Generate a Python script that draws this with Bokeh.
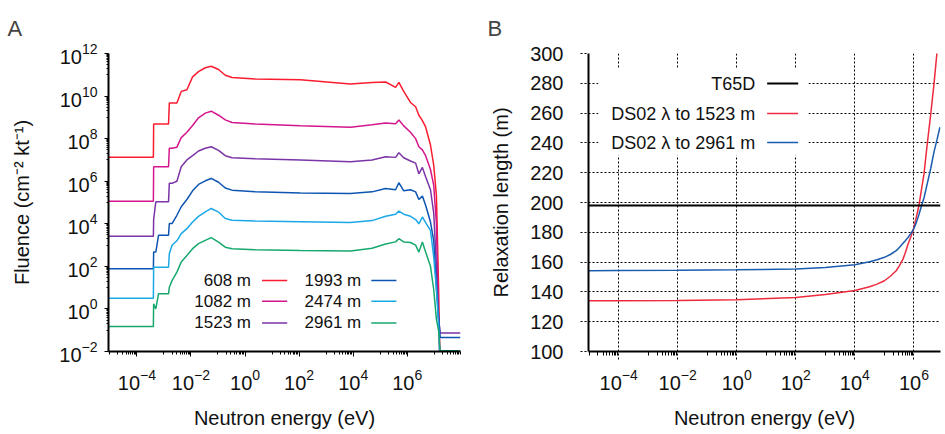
import numpy as np
from bokeh.plotting import figure
from bokeh.models import Range1d, FixedTicker, Span
from bokeh.layouts import row
from bokeh.embed import file_html
from bokeh.resources import INLINE
from bokeh.core.properties import value

FONT = "Liberation Sans"

# ---------------- Panel A data (log10 of energy in eV, log10 of fluence) ----------------
log_energy_a = [-5.05, -3.39, -3.38, -3.30, -3.20, -2.83, -2.80, -2.70, -2.52, -2.36,
                -2.15, -1.94, -1.72, -1.47, -1.25, -0.98, -0.73, -0.48, 0.38, 2.05,
                3.90, 4.70, 5.20, 5.57, 5.69, 5.87, 6.12, 6.31, 6.43, 6.56,
                6.68, 6.86, 6.98, 7.08, 7.16, 7.22, 7.97]

fluence_608 = [7.12, 7.12, 8.69, 8.69, 8.69, 8.69, 9.67, 9.67, 9.67, 10.22,
               10.30, 10.90, 11.15, 11.33, 11.40, 11.25, 10.98, 10.87, 10.80, 10.77,
               10.57, 10.64, 10.66, 10.41, 10.64, 10.22, 9.70, 9.50, 9.10, 8.85,
               8.55, 7.70, 6.75, 5.30, 1.00, -3.0, -3.0]
fluence_1082 = [5.06, 5.06, 6.68, 6.68, 6.68, 6.68, 7.55, 7.55, 7.60, 8.05,
                8.30, 8.62, 8.98, 9.20, 9.29, 9.10, 8.88, 8.76, 8.69, 8.61,
                8.54, 8.65, 8.73, 8.70, 8.88, 8.60, 8.30, 8.00, 7.62, 7.47,
                7.20, 6.55, 5.80, 4.00, -0.50, -3.0, -3.0]
fluence_1523 = [3.42, 3.42, 4.20, 5.03, 5.03, 5.03, 5.90, 5.90, 6.00, 6.68,
                7.00, 7.20, 7.42, 7.55, 7.62, 7.45, 7.20, 7.10, 7.05, 7.00,
                6.92, 7.00, 7.15, 7.12, 7.34, 7.10, 6.95, 6.85, 6.35, 6.65,
                6.21, 5.60, 4.50, 2.00, -0.50, -1.13, -1.13]
fluence_1993 = [1.89, 1.89, 2.67, 2.67, 3.46, 3.46, 4.01, 4.01, 4.40, 4.80,
                5.14, 5.55, 5.85, 6.02, 6.13, 5.95, 5.68, 5.58, 5.50, 5.45,
                5.42, 5.50, 5.66, 5.60, 5.93, 5.55, 5.60, 5.50, 5.14, 5.30,
                4.87, 4.08, 3.20, 1.00, -0.40, -1.34, -1.34]
fluence_2474 = [0.50, 0.50, 1.96, 1.96, 1.96, 1.96, 2.59, 2.99, 3.20, 3.54,
                3.77, 4.08, 4.35, 4.56, 4.72, 4.55, 4.25, 4.17, 4.13, 4.10,
                4.06, 4.15, 4.35, 4.45, 4.60, 4.45, 4.35, 4.20, 4.00, 4.32,
                4.05, 3.69, 2.43, 0.90, -0.70, -3.0, -3.0]
fluence_2961 = [-0.83, -0.83, 0.24, 0.00, 0.71, 0.71, 1.02, 1.33, 1.73, 2.20,
                2.51, 2.83, 3.07, 3.22, 3.35, 3.14, 2.90, 2.83, 2.78, 2.74,
                2.72, 2.85, 3.05, 3.15, 3.30, 3.15, 3.12, 3.00, 2.67, 3.14,
                2.67, 2.00, 0.90, -0.50, -1.02, -1.97, -1.97]

distance_labels = ["608 m", "1082 m", "1523 m", "1993 m", "2474 m", "2961 m"]
fluence_series = [fluence_608, fluence_1082, fluence_1523, fluence_1993, fluence_2474, fluence_2961]
colors_a = ["#fb1c30", "#d4168c", "#7a34a6", "#0d55b0", "#1ca7e6", "#17a86e"]

# ---------------- Panel B data ----------------
log_energy_b = [-5.02, -4.0, -2.0, 0.0, 2.0, 3.0, 4.0, 4.5, 4.75, 5.0,
                5.2, 5.4, 5.5, 5.63, 5.7, 5.8, 5.9, 6.0, 6.08, 6.17,
                6.25, 6.34, 6.45, 6.57, 6.68, 6.78, 6.88]
relax_1523 = [134.0, 134.1, 134.3, 134.7, 136.3, 138.2, 140.9, 143.5, 145.2, 147.5,
              150.5, 154.2, 157.3, 162.0, 165.8, 172.0, 177.2, 183.3, 190.0, 198.0,
              208.0, 219.0, 239.0, 259.5, 279.6, 300.5, 322.0]
relax_2961 = [154.2, 154.3, 154.5, 154.8, 155.4, 156.3, 158.2, 160.3, 161.6, 163.2,
              165.1, 167.7, 169.6, 172.6, 174.2, 176.5, 179.3, 182.5, 186.5, 192.0,
              197.3, 203.0, 212.5, 223.0, 234.0, 242.0, 250.5]
t65d_length = 198.0
legend_b_labels = ["T65D", "DS02 \u03bb to 1523 m", "DS02 \u03bb to 2961 m"]
colors_b = ["#000000", "#ee2a3e", "#1a5cae"]
relax_ticks = [100, 120, 140, 160, 180, 200, 220, 240, 260, 280, 300]


def log_ticker(major_exps, minor_exps):
    majors = [10.0 ** e for e in major_exps]
    minors = [k * 10.0 ** e for e in minor_exps for k in range(1, 10)]
    return FixedTicker(ticks=majors, minor_ticks=minors)


def style_axis(ax, tick_out, minor_out, dash=None):
    ax.axis_line_width = 2
    ax.axis_line_color = "black"
    ax.major_tick_in = 0
    ax.major_tick_out = tick_out
    ax.minor_tick_in = 0
    ax.minor_tick_out = minor_out
    ax.major_tick_line_color = "black"
    ax.minor_tick_line_color = "black"
    if dash:
        ax.major_tick_line_dash = dash
    ax.major_label_text_font = FONT
    ax.major_label_text_font_size = "20px"
    ax.major_label_text_color = "#111111"
    ax.axis_label_text_font = FONT
    ax.axis_label_text_font_size = "20px"
    ax.axis_label_text_font_style = "normal"
    ax.axis_label_text_color = "#111111"


def style_title(p, text, offset):
    p.title.text = text
    p.title.align = "left"
    p.title.offset = offset
    p.title.text_font = FONT
    p.title.text_font_size = "22px"
    p.title.text_font_style = "normal"
    p.title.standoff = 25


# ================= Panel A =================
pa = figure(width=470, height=434, x_axis_type="log", y_axis_type="log",
            x_range=Range1d(10 ** -5.05, 10 ** 7.97), y_range=Range1d(1e-2, 1e12),
            output_backend="svg", toolbar_location=None,
            min_border_left=108, min_border_right=10, min_border_top=53, min_border_bottom=83)
pa.outline_line_color = None
pa.grid.visible = False
pa.xaxis.ticker = log_ticker([-4, -2, 0, 2, 4, 6], [-5, -3, -1, 1, 3, 5, 7])
pa.yaxis.ticker = log_ticker([-2, 0, 2, 4, 6, 8, 10, 12], [-1, 1, 3, 5, 7, 9, 11])
style_axis(pa.xaxis[0], 5, 3)
style_axis(pa.yaxis[0], 4, 2)
pa.xaxis.major_label_standoff = 12
pa.xaxis.axis_label_standoff = 14
pa.yaxis.major_label_standoff = 7
pa.yaxis.axis_label_standoff = 23
pa.xaxis.axis_label = "Neutron energy (eV)"
pa.yaxis.axis_label = "Fluence (cm\u207b\u00b2 kt\u207b\u00b9)"

ea = 10.0 ** np.array(log_energy_a)
for vals, col in zip(fluence_series, colors_a):
    pa.line(ea, 10.0 ** np.array(vals), line_color=col, line_width=1.5)

# legend of panel A: two columns of three, label then line sample
leg_text_x = [0.22, 0.22, 0.22, 4.30, 4.30, 4.30]
leg_line_x0 = [0.63, 0.63, 0.63, 4.67, 4.67, 4.67]
leg_line_x1 = [1.56, 1.56, 1.56, 5.60, 5.60, 5.60]
leg_row_y = [1.335, 0.36, -0.66, 1.335, 0.36, -0.66]
pa.text(x=[10 ** v for v in leg_text_x], y=[10 ** v for v in leg_row_y], text=distance_labels,
        text_align="right", text_baseline="middle", text_font=value(FONT),
        text_font_size=value("17px"), text_color="#111111")
pa.segment(x0=[10 ** v for v in leg_line_x0], x1=[10 ** v for v in leg_line_x1],
           y0=[10 ** v for v in leg_row_y], y1=[10 ** v for v in leg_row_y],
           line_color=colors_a, line_width=1.5)
style_title(pa, "A", -101)

# ================= Panel B =================
pb = figure(width=475, height=434, x_axis_type="log",
            x_range=Range1d(10 ** -5.02, 10 ** 6.9), y_range=Range1d(100, 300),
            output_backend="svg", toolbar_location=None,
            min_border_left=118, min_border_right=5, min_border_top=53, min_border_bottom=83)
pb.outline_line_color = None
pb.xaxis.ticker = log_ticker([-4, -2, 0, 2, 4, 6], [-5, -3, -1, 1, 3, 5])
pb.yaxis.ticker = FixedTicker(ticks=relax_ticks)
style_axis(pb.xaxis[0], 8, 4, dash="2 2")
style_axis(pb.yaxis[0], 8, 0, dash="2 2")
pb.xaxis.major_label_standoff = 9
pb.xaxis.axis_label_standoff = 14
pb.yaxis.major_label_standoff = 17
pb.yaxis.axis_label_standoff = 15
pb.xaxis.axis_label = "Neutron energy (eV)"
pb.yaxis.axis_label = "Relaxation length (m)"
for g in (pb.xgrid[0], pb.ygrid[0]):
    g.grid_line_color = "black"
    g.grid_line_dash = "2 2"
    g.grid_line_width = 1

# legend box (white, hides grid)
pb.quad(left=[10 ** -4.69], right=[10 ** 2.43], bottom=[231.5], top=[290.0],
        fill_color="white", line_color=None)

eb = 10.0 ** np.array(log_energy_b)
pb.add_layout(Span(location=t65d_length, dimension="width", line_color=colors_b[0], line_width=2))
pb.line(eb, relax_1523, line_color=colors_b[1], line_width=1.5)
pb.line(eb, relax_2961, line_color=colors_b[2], line_width=1.5)

leg_b_y = [279.8, 259.7, 240.2]
pb.text(x=[10 ** 0.63] * 3, y=leg_b_y, text=legend_b_labels,
        text_align="right", text_baseline="middle", text_font=value(FONT),
        text_font_size=value("18px"), text_color="#111111")
pb.segment(x0=[10 ** 1.03] * 3, x1=[10 ** 2.08] * 3, y0=leg_b_y, y1=leg_b_y,
           line_color=colors_b, line_width=[2, 1.5, 1.5])
style_title(pb, "B", -101)

layout = row(pa, pb)
open("out.html", "w").write(file_html(layout, INLINE))
